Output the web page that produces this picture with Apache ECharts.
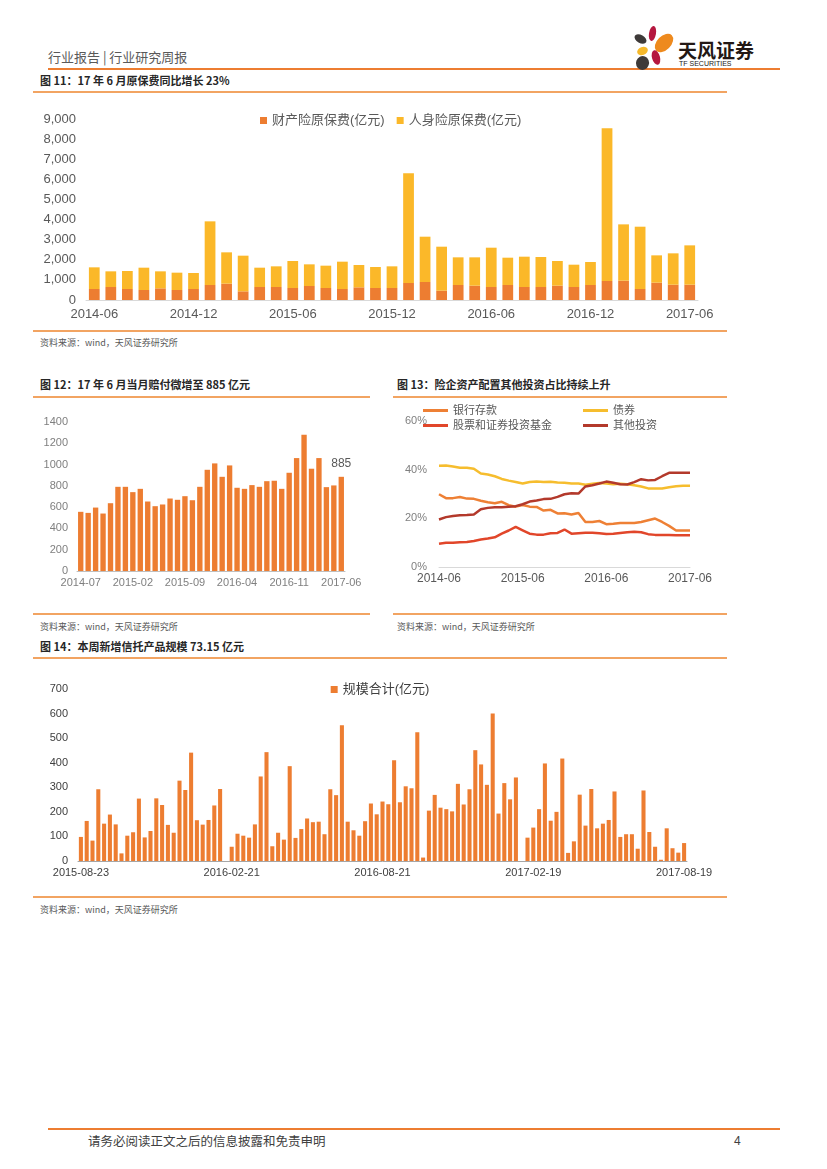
<!DOCTYPE html>
<html><head><meta charset="utf-8">
<script src="https://cdn.jsdelivr.net/npm/echarts/dist/echarts.min.js"></script>
<style>
html,body{margin:0;padding:0;background:#fff;}
body{width:827px;height:1169px;position:relative;overflow:hidden;font-family:"Liberation Sans","Noto Sans CJK SC",sans-serif;}
.a{position:absolute;white-space:nowrap;line-height:1;}
.t{font-size:11px;font-weight:bold;color:#262626;font-family:"Noto Sans CJK SC",sans-serif;}
.src{font-size:9px;color:#595959;font-family:"Noto Sans CJK SC",sans-serif;}
.ln{position:absolute;height:1.5px;background:#F2A462;}
.pet{position:absolute;border-radius:50%;}
.ch{position:absolute;}
</style></head>
<body>
<!-- header -->
<div class="a" style="left:48px;top:50px;font-size:13px;color:#595959;font-family:'Noto Sans CJK SC';">行业报告&nbsp;|&nbsp;行业研究周报</div>
<div style="position:absolute;left:48px;top:68px;width:732px;height:2px;background:#ED7D31;"></div>
<div class="pet" style="left:649px;top:26px;width:7px;height:15px;background:#B5173F;transform:rotate(10deg);"></div>
<div class="pet" style="left:634px;top:35px;width:13px;height:8px;background:#3E3A39;transform:rotate(30deg);"></div>
<div class="pet" style="left:657px;top:32px;width:14px;height:22px;background:#EE8A1E;transform:rotate(45deg);"></div>
<div class="pet" style="left:637px;top:47px;width:11px;height:8px;background:#F6B92B;transform:rotate(-20deg);"></div>
<div class="pet" style="left:652px;top:50px;width:8px;height:15px;background:#B5173F;transform:rotate(-15deg);"></div>
<div class="pet" style="left:636px;top:56px;width:13px;height:14px;background:#3E3A39;transform:rotate(20deg);"></div>
<div class="a" style="left:678px;top:40px;font-size:19px;font-weight:bold;color:#231815;font-family:'Noto Sans CJK SC';">天风证券</div>
<div class="a" style="left:679px;top:60px;font-size:7px;color:#231815;font-family:'Liberation Sans';">TF SECURITIES</div>

<!-- chart 11 -->
<div class="a t" style="left:40px;top:75px;">图 11：17 年 6 月原保费同比增长 23%</div>
<div class="ln" style="left:33px;top:91px;width:694px;"></div>
<div id="c11" class="ch" style="left:30px;top:100px;width:700px;height:230px;"></div>
<div class="ln" style="left:33px;top:330px;width:694px;"></div>
<div class="a src" style="left:40px;top:338px;">资料来源：wind，天风证券研究所</div>

<!-- chart 12 -->
<div class="a t" style="left:40px;top:379px;">图 12：17 年 6 月当月赔付微增至 885 亿元</div>
<div class="ln" style="left:33px;top:396px;width:337px;"></div>
<div id="c12" class="ch" style="left:30px;top:400px;width:340px;height:210px;"></div>
<div class="ln" style="left:33px;top:613px;width:337px;"></div>
<div class="a src" style="left:40px;top:622px;">资料来源：wind，天风证券研究所</div>

<!-- chart 13 -->
<div class="a t" style="left:397px;top:379px;">图 13：险企资产配置其他投资占比持续上升</div>
<div class="ln" style="left:393px;top:396px;width:334px;"></div>
<div id="c13" class="ch" style="left:390px;top:400px;width:340px;height:210px;"></div>
<div class="ln" style="left:393px;top:613px;width:334px;"></div>
<div class="a src" style="left:397px;top:622px;">资料来源：wind，天风证券研究所</div>

<!-- chart 14 -->
<div class="a t" style="left:40px;top:641px;">图 14：本周新增信托产品规模 73.15 亿元</div>
<div class="ln" style="left:33px;top:657px;width:694px;"></div>
<div id="c14" class="ch" style="left:30px;top:665px;width:700px;height:230px;"></div>
<div class="ln" style="left:33px;top:896px;width:694px;"></div>
<div class="a src" style="left:40px;top:905px;">资料来源：wind，天风证券研究所</div>

<!-- footer -->
<div style="position:absolute;left:48px;top:1128px;width:732px;height:2px;background:#ED7D31;"></div>
<div class="a" style="left:88px;top:1135px;font-size:12.5px;color:#404040;font-family:'Noto Sans CJK SC';">请务必阅读正文之后的信息披露和免责申明</div>
<div class="a" style="left:734px;top:1135px;font-size:12px;color:#404040;">4</div>

<script>
// ---------- data ----------
function monthRange(y, m, n){ const out=[]; for(let i=0;i<n;i++){ const mm=(m-1+i)%12+1, yy=y+Math.floor((m-1+i)/12); out.push(yy+'-'+(mm<10?'0':'')+mm);} return out; }
function weekRange(start, n){ const out=[]; const d=new Date(start+'T00:00:00Z'); for(let i=0;i<n;i++){ const x=new Date(d.getTime()+i*7*86400000); out.push(x.toISOString().slice(0,10)); } return out; }

// Fig 11: monthly premiums 2014-06 .. 2017-06
const months11 = monthRange(2014, 6, 37);
const propertyPremium = [547,646,547,497,580,497,547,746,812,431,646,646,597,696,597,547,630,597,597,845,895,464,746,713,646,746,646,646,713,646,746,945,961,547,862,762,762];
const lifePremium = [1077,779,895,1110,845,862,795,3165,1558,1773,961,1028,1342,1077,1110,1359,1110,1043,1077,5452,2253,2187,1375,1408,1955,1358,1508,1492,1226,1110,1143,7589,2800,3098,1358,1558,1955];

// Fig 12: monthly claims 2014-07 .. 2017-06
const months12 = monthRange(2014, 7, 36);
const claims = [556,546,596,540,637,791,791,741,772,653,609,625,681,669,703,665,791,951,1011,885,992,782,772,807,791,844,848,772,923,1061,1281,961,1061,788,804,885];

// Fig 13: asset allocation share (%) 2014-06 .. 2017-06
const months13 = monthRange(2014, 6, 37);
const deposits = [29.9,28.3,28.3,28.8,28.1,28.0,27.2,26.6,26.2,26.8,25.4,24.8,25.5,24.8,24.7,23.2,23.5,22.0,22.1,21.6,22.2,18.5,18.5,18.9,17.6,17.8,18.1,18.1,18.1,18.5,19.2,19.9,18.5,16.9,15.0,15.0,15.0];
const bonds = [41.6,41.7,41.3,40.8,40.8,40.4,38.4,38.0,37.3,36.2,35.5,34.9,34.3,34.9,35.1,34.9,35.0,34.7,34.6,34.3,34.3,33.8,34.2,34.5,34.3,34.0,34.2,34.0,33.6,33.1,32.3,32.3,32.3,32.8,33.2,33.4,33.4];
const stocks = [9.6,10.0,10.0,10.2,10.3,10.7,11.3,11.7,12.2,13.7,15.0,16.5,15.1,13.7,13.3,13.3,13.9,14.0,15.4,13.7,13.9,14.1,14.1,13.9,13.6,13.7,14.0,14.3,14.5,14.3,13.5,13.2,13.2,13.2,13.0,13.0,13.0];
const others = [19.5,20.5,21.0,21.3,21.4,21.6,23.7,24.3,24.6,24.6,24.8,25.0,25.8,26.9,27.3,27.9,28.0,28.8,29.9,30.3,30.2,33.1,33.6,34.3,35.1,34.6,34.0,33.9,34.9,36.1,35.6,35.8,37.3,38.7,38.7,38.7,38.7];

// Fig 14: weekly trust issuance 2015-08-23 .. 2017-08-19
const weeks14 = weekRange('2015-08-23', 105); weeks14[104] = '2017-08-19';
const trustScale = [98,163,83,292,152,189,149,31,103,117,254,96,122,255,228,147,115,327,289,441,166,148,167,226,293,0,58,111,103,95,149,344,443,60,115,87,386,94,130,173,158,160,109,292,268,552,160,125,103,162,234,190,242,231,410,239,304,296,524,14,205,269,217,211,202,314,230,292,451,393,310,600,193,317,251,340,0,95,136,211,397,164,200,417,33,80,270,144,293,133,152,167,283,98,109,109,50,287,118,58,5,133,52,34,73];

// ---------- charts ----------
const FONT = '"Liberation Sans","Noto Sans CJK SC",sans-serif';
const ORANGE = '#ED7D31';

const c11 = echarts.init(document.getElementById('c11'));
c11.setOption({
  animation:false, textStyle:{fontFamily:FONT},
  legend:{left:225, top:9, itemWidth:7, itemHeight:7, itemGap:12, icon:'rect',
    textStyle:{fontSize:13, color:'#595959', fontFamily:FONT},
    data:['财产险原保费(亿元)','人身险原保费(亿元)']},
  grid:{left:56, right:32, top:19, bottom:30},
  xAxis:{type:'category', data:months11, axisTick:{show:false},
    axisLine:{lineStyle:{color:'#d9d9d9'}},
    axisLabel:{interval:5, color:'#595959', fontSize:13, margin:8}},
  yAxis:{type:'value', min:0, max:9000, interval:1000, splitLine:{show:false},
    axisLabel:{color:'#595959', fontSize:13, margin:10, formatter:v=>v.toLocaleString('en-US')}},
  series:[
    {name:'财产险原保费(亿元)', type:'bar', stack:'p', data:propertyPremium, itemStyle:{color:ORANGE}, barCategoryGap:'35%'},
    {name:'人身险原保费(亿元)', type:'bar', stack:'p', data:lifePremium, itemStyle:{color:'#FBB829'}}
  ]
});

const c12 = echarts.init(document.getElementById('c12'));
c12.setOption({
  animation:false, textStyle:{fontFamily:FONT},
  grid:{left:47, right:25, top:22, bottom:39},
  xAxis:{type:'category', data:months12, axisTick:{show:false},
    axisLine:{lineStyle:{color:'#bfbfbf'}},
    axisLabel:{interval:6, color:'#7f7f7f', fontSize:11, margin:6}},
  yAxis:{type:'value', min:0, max:1400, interval:200, splitLine:{show:false},
    axisLabel:{color:'#7f7f7f', fontSize:11, margin:9, formatter:v=>String(v)}},
  series:[{type:'bar', data:claims, itemStyle:{color:ORANGE}, barCategoryGap:'28%',
    label:{show:true, position:'top', distance:7, fontSize:12, color:'#595959',
      formatter:p=>p.dataIndex===claims.length-1?String(p.value):''}}]
});

const c13 = echarts.init(document.getElementById('c13'));
const lg = (name,left,top)=>({data:[name], left:left, top:top, itemWidth:25, itemHeight:3, itemGap:0, icon:'rect',
  textStyle:{fontSize:11, color:'#595959', fontFamily:FONT}});
c13.setOption({
  animation:false, textStyle:{fontFamily:FONT},
  legend:[lg('银行存款',28,0), lg('债券',188,0), lg('股票和证券投资基金',28,15), lg('其他投资',188,15)],
  grid:{left:49, right:40, top:21, bottom:43},
  xAxis:{type:'category', data:months13, boundaryGap:false, axisTick:{show:false},
    axisLine:{lineStyle:{color:'#d9d9d9'}},
    axisLabel:{interval:11, color:'#595959', fontSize:12, margin:6}},
  yAxis:{type:'value', min:0, max:60, interval:20, splitLine:{show:false},
    axisLabel:{color:'#7f7f7f', fontSize:11, margin:12, formatter:'{value}%'}},
  series:[
    {name:'银行存款', type:'line', data:deposits, symbol:'none', lineStyle:{width:2.5, color:'#EE8035'}, itemStyle:{color:'#EE8035'}},
    {name:'债券', type:'line', data:bonds, symbol:'none', lineStyle:{width:2.5, color:'#F6BD2E'}, itemStyle:{color:'#F6BD2E'}},
    {name:'股票和证券投资基金', type:'line', data:stocks, symbol:'none', lineStyle:{width:2.5, color:'#E1462A'}, itemStyle:{color:'#E1462A'}},
    {name:'其他投资', type:'line', data:others, symbol:'none', lineStyle:{width:2.5, color:'#B3392B'}, itemStyle:{color:'#B3392B'}}
  ]
});

const c14 = echarts.init(document.getElementById('c14'));
c14.setOption({
  animation:false, textStyle:{fontFamily:FONT},
  legend:{left:'center', top:13, itemWidth:7, itemHeight:7, icon:'rect',
    textStyle:{fontSize:13, color:'#404040', fontFamily:FONT}, data:['规模合计(亿元)']},
  grid:{left:48, right:43, top:24, bottom:34},
  xAxis:{type:'category', data:weeks14, axisTick:{show:false},
    axisLine:{lineStyle:{color:'#a6a6a6'}},
    axisLabel:{interval:25, color:'#404040', fontSize:11, margin:6}},
  yAxis:{type:'value', min:0, max:700, interval:100, splitLine:{show:false},
    axisLabel:{color:'#404040', fontSize:11, margin:10}},
  series:[{name:'规模合计(亿元)', type:'bar', data:trustScale, itemStyle:{color:ORANGE}, barCategoryGap:'30%'}]
});
</script>
</body></html>
